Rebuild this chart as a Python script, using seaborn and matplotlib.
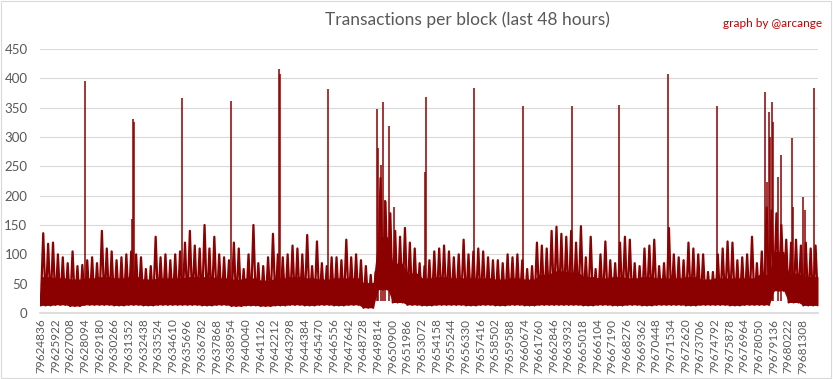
import numpy as np
import pandas as pd
import seaborn as sns
import matplotlib.pyplot as plt
from matplotlib.patches import Rectangle

# block numbers shown on the x axis (every 1086 blocks)
tick_blocks = [79624836, 79625922, 79627008, 79628094, 79629180, 79630266, 79631352,
               79632438, 79633524, 79634610, 79635696, 79636782, 79637868, 79638954,
               79640040, 79641126, 79642212, 79643298, 79644384, 79645470, 79646556,
               79647642, 79648728, 79649814, 79650900, 79651986, 79653072, 79654158,
               79655244, 79656330, 79657416, 79658502, 79659588, 79660674, 79661760,
               79662846, 79663932, 79665018, 79666104, 79667190, 79668276, 79669362,
               79670448, 79671534, 79672620, 79673706, 79674792, 79675878, 79676964,
               79678050, 79679136, 79680222, 79681308]
last_block = 79682436

# upper edge of the noisy band, 3 readings per tick interval
bin_peaks = [136, 118, 120,  100, 95, 85,  105, 80, 82,  90, 95, 85,
             140, 110, 105,  90, 95, 100,  105, 100, 95,  75, 80, 130,
             95, 100, 90,  100, 105, 120,  140, 115, 110,  150, 110, 130,
             100, 95, 90,  120, 110, 75,  100, 150, 85,  80, 95, 135,
             100, 95, 100,  115, 110, 100,  133, 80, 122,  85, 80, 95,
             95, 90, 125,  95, 100, 90,  80, 65, 70,  230, 190, 170,
             140, 130, 145,  120, 110, 85,  80, 90, 105,  110, 115, 105,
             95, 100, 125,  100, 105, 110,  105, 95, 90,  90, 85, 100,
             95, 100, 90,  75, 80, 120,  115, 110, 140,  147, 135, 130,
             140, 120, 148,  95, 130, 75,  100, 122, 90,  85, 120, 130,
             125, 85, 80,  110, 115, 125,  80, 85, 145,  100, 95, 90,
             120, 110, 100,  100, 70, 70,  100, 110, 122,  120, 90, 95,
             100, 130, 85,  105, 180, 175,  170, 150, 125,  120, 125, 115,
             120, 110, 115]

# lowest values and solid core level per tick interval
floor_lv = [13, 14, 12, 14, 14, 13, 14, 13, 14, 14, 14, 13, 14, 12, 13, 12, 13, 14,
            13, 14, 13, 14, 9, 40, 18, 14, 13, 14, 14, 13, 14, 13, 14, 13, 14, 14,
            14, 13, 14, 13, 14, 13, 14, 14, 13, 14, 14, 13, 14, 14, 38, 18, 13]
core_lv = [62, 60, 58, 60, 62, 60, 62, 58, 60, 60, 62, 62, 60, 58, 60, 56, 60, 62,
           60, 58, 60, 60, 52, 130, 85, 68, 60, 62, 60, 60, 60, 58, 60, 58, 66, 72,
           70, 62, 60, 62, 60, 62, 60, 60, 62, 58, 60, 60, 60, 66, 105, 68, 62]

# isolated spikes
spike_blocks = [79628116, 79631573, 79631669, 79631721, 79635296, 79638924, 79642507,
                79642540, 79646105, 79649732, 79649836, 79650029, 79650177, 79650325,
                79650621, 79650991, 79653300, 79653360, 79656913, 79660541, 79664168,
                79667722, 79671349, 79674976, 79678530, 79678678, 79678804, 79678915,
                79679048, 79679122, 79679492, 79679714, 79680528, 79680580, 79681343,
                79681446, 79682157]
spike_vals = [395, 160, 330, 325, 367, 362, 415, 408, 381, 347, 281, 252, 359, 193,
              318, 181, 240, 368, 384, 353, 353, 355, 408, 353, 376, 224, 342, 300,
              359, 325, 232, 270, 299, 181, 197, 175, 384]

RED = "#8b0000"
GREY = "#595959"

sns.set_theme(style="white")
plt.rcParams["font.family"] = ["Lato", "DejaVu Sans"]

fig = plt.figure(figsize=(8.33, 3.79), dpi=100)
ax = fig.add_axes([0.048, 0.174, 0.934, 0.697])

n_bins = len(bin_peaks)
bin_size = (last_block - tick_blocks[0]) / n_bins
edges = tick_blocks[0] + bin_size * np.arange(n_bins + 1)
centers = edges[:-1] + bin_size / 2
lo_edge = [floor_lv[min(j // 3, len(floor_lv) - 1)] for j in range(n_bins + 1)]
core_edge = [core_lv[min(j // 3, len(core_lv) - 1)] for j in range(n_bins + 1)]

# saw-tooth between the floor and the peak of each bin
zig_x, zig_y = [], []
for j in range(n_bins):
    zig_x += [edges[j], centers[j]]
    zig_y += [lo_edge[j], bin_peaks[j]]
zig_x.append(edges[-1])
zig_y.append(lo_edge[-1])
df = pd.DataFrame({"block": zig_x, "tx": zig_y})

ax.fill_between(edges, lo_edge, core_edge, color=RED, lw=0, zorder=2)
sns.lineplot(data=df, x="block", y="tx", sort=False, estimator=None,
             color=RED, linewidth=1.6, ax=ax, zorder=3)
ax.vlines(spike_blocks, 20, spike_vals, color=RED, lw=1.1, zorder=3)

ax.set_xlim(tick_blocks[0] - 60, last_block)
ax.set_ylim(0, 450)
ax.set_yticks(range(0, 451, 50))
ax.set_xticks(tick_blocks)
ax.set_xticklabels([str(b) for b in tick_blocks], rotation=90)
ax.tick_params(axis="x", length=0, pad=4, labelsize=8.5, labelcolor=GREY)
ax.tick_params(axis="y", length=0, pad=9, labelsize=9.5, labelcolor=GREY)
ax.set_xlabel("")
ax.set_ylabel("")
ax.grid(axis="y", color="#d9d9d9", lw=0.8)
ax.set_axisbelow(True)
for s in ["top", "right", "left"]:
    ax.spines[s].set_visible(False)
ax.spines["bottom"].set_color("#d9d9d9")

fig.text(0.561, 0.947, "Transactions per block (last 48 hours)", ha="center", va="center",
         fontsize=12.5, color=GREY)
fig.text(0.987, 0.937, "graph by @arcange", ha="right", va="center",
         fontsize=8.5, color="#c00000")
fig.patches.append(Rectangle((0.001, 0.003), 0.997, 0.994, transform=fig.transFigure,
                             fill=False, edgecolor="#d9d9d9", lw=0.8))

fig.savefig("out.png", dpi=100)
